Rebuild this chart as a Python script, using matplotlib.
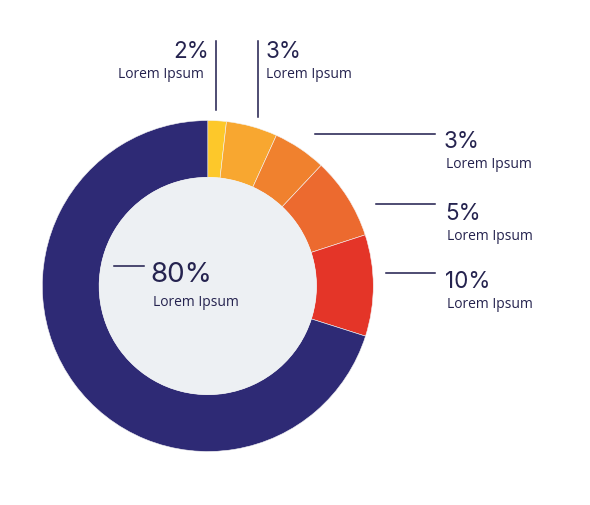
import matplotlib
matplotlib.use("Agg")
import matplotlib.pyplot as plt
from matplotlib.patches import Circle

plt.rcParams['font.family'] = ['Open Sans', 'DejaVu Sans']

# Data (slice sizes as drawn, labels as printed)
categories = ["A", "B", "C", "D", "E", "F"]
slice_values = [1.8, 5.0, 5.2, 8.0, 9.9, 70.1]
pct_labels = ["2%", "3%", "3%", "5%", "10%", "80%"]
sub_label = "Lorem Ipsum"
colors = ["#FDC82A", "#F8A730", "#F0812E", "#EC6A2F", "#E43528", "#2E2A75"]

W, H = 590, 506
TXT = "#25234F"
LINE = "#1E1B4B"
PCT_FONT = ['Inter', 'Open Sans', 'DejaVu Sans']

fig = plt.figure(figsize=(W / 100, H / 100), dpi=100)
ax = fig.add_axes([0, 0, 1, 1])
ax.set_xlim(0, W)
ax.set_ylim(0, H)
ax.set_aspect('equal')
ax.axis('off')

def Y(py):
    return H - py

cx, cy = 207.8, Y(287.0)
R_out, R_in = 165.5, 108.7

ax.pie(slice_values, colors=colors, startangle=90, counterclock=False,
       center=(cx, cy), radius=R_out, frame=True,
       wedgeprops=dict(width=R_out - R_in, edgecolor='#f4f4f4', linewidth=0.4))
ax.set_xlim(0, W)
ax.set_ylim(0, H)
ax.axis('off')
ax.add_patch(Circle((cx, cy), R_in, facecolor="#EDF0F3", edgecolor='none', zorder=3))

big = 16.2
small = 10

def label(x, ytop, pct, ha, size=big, sub_y=None, sub_dx=0):
    ax.text(x, Y(ytop), pct, ha=ha, va='top', fontsize=size, color=TXT,
            fontweight='normal', family=PCT_FONT, zorder=5)
    ax.text(x + sub_dx, Y(sub_y), sub_label, ha=ha, va='center',
            fontsize=small, color=TXT, zorder=5)

# top-left label (2%)
ax.plot([215.7, 215.7], [Y(42), Y(111)], color=LINE, lw=1.1)
label(208.5, 41, pct_labels[0], 'right', sub_dx=-5, sub_y=74.5)
# top label (3%)
ax.plot([258.3, 258.3], [Y(42), Y(118)], color=LINE, lw=1.1)
label(265.5, 41, pct_labels[1], 'left', sub_y=74.5)
# right labels
ax.plot([315, 435], [Y(135), Y(135)], color=LINE, lw=1.1)
label(444, 131, pct_labels[2], 'left', sub_dx=2, sub_y=164)
ax.plot([376, 435], [Y(205.3), Y(205.3)], color=LINE, lw=1.1)
label(445, 203, pct_labels[3], 'left', sub_dx=2, sub_y=236.5)
ax.plot([386, 435], [Y(274.3), Y(274.3)], color=LINE, lw=1.1)
label(445, 271, pct_labels[4], 'left', sub_dx=2, sub_y=304)
# center label
ax.plot([114, 143.5], [Y(266.7), Y(266.7)], color=LINE, lw=1.1, zorder=5)
label(150.5, 262.5, pct_labels[5], 'left', size=20.0, sub_dx=2, sub_y=303)

fig.savefig("out.png", dpi=100, facecolor='white')
